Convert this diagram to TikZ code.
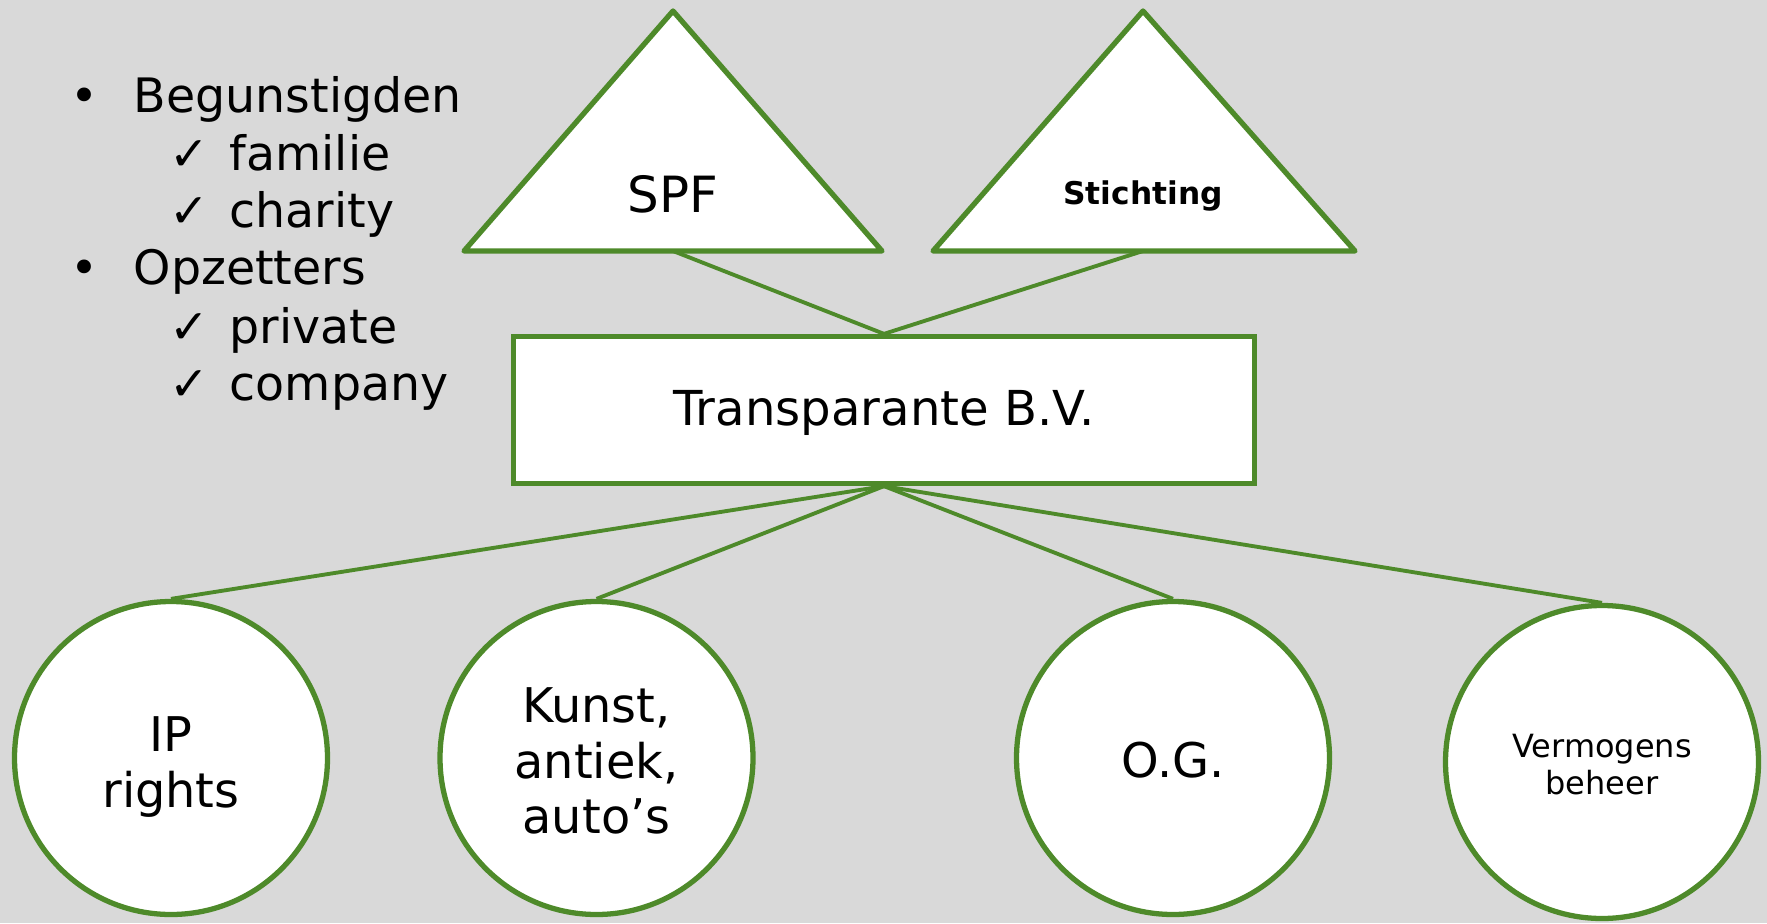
\documentclass[tikz,border=0pt]{standalone}
\usepackage{fontspec}
\setmainfont{DejaVu Sans}
\definecolor{leafgreen}{HTML}{4E8A2A}
\definecolor{slidegray}{HTML}{D9D9D9}

\begin{document}
\begin{tikzpicture}
        [entity/.style={circle, draw=leafgreen, fill=white, line width=1.5pt, minimum size=3.13cm, inner sep=0pt, align=center, font=\fontsize{13.6}{15.8}\selectfont},
        bv/.style={rectangle, draw=leafgreen, fill=white, line width=1.5pt, minimum width=7.41cm, minimum height=1.47cm, font=\fontsize{13.7}{15.8}\selectfont, execute at begin node={\rule{0pt}{0.85em}}},
        holder/.style={draw=leafgreen, fill=white, line width=1.5pt, line join=round},
        link/.style={leafgreen, line width=1.1pt},
        item/.style={anchor=base west, inner sep=0pt, font=\fontsize{13.5}{15.8}\selectfont}]

        % slide background
        \fill[slidegray] (0,0) rectangle (17.67,9.23);
        \useasboundingbox (0,0) rectangle (17.67,9.23);

        % list on the left
        \node[item] (dot1) at (0.70,8.10) {•};
        \node[item] (ben) at (1.33,8.10) {Begunstigden};
        \node[item] (chk1) at (1.69,7.53) {✓};
        \node[item] (fam) at (2.29,7.53) {familie};
        \node[item] (chk2) at (1.69,6.955) {✓};
        \node[item] (cha) at (2.29,6.955) {charity};
        \node[item] (dot2) at (0.70,6.38) {•};
        \node[item] (opz) at (1.33,6.38) {Opzetters};
        \node[item] (chk3) at (1.69,5.80) {✓};
        \node[item] (pri) at (2.29,5.80) {private};
        \node[item] (chk4) at (1.69,5.225) {✓};
        \node[item] (com) at (2.29,5.225) {company};

        % holding structures on top
        \draw[holder] (4.64,6.72) -- (6.73,9.12) -- (8.82,6.72) -- cycle;
        \draw[holder] (9.33,6.72) -- (11.43,9.12) -- (13.55,6.72) -- cycle;
        \coordinate (spf) at (6.73,6.72);
        \coordinate (sti) at (11.43,6.72);
        \node[font=\fontsize{14.2}{15.8}\selectfont] (spflabel) at (6.73,7.29) {SPF};
        \node[font=\fontsize{8.9}{10.6}\selectfont\bfseries] (stilabel) at (11.43,7.27) {Stichting};

        % the B.V. in the middle
        \node[bv] (tbv) at (8.84,5.13) {Transparante B.V.};

        % assets below
        \node[entity] (ip) at (1.71,1.65) {\rule{0pt}{1.1em}IP\\rights};
        \node[entity] (art) at (5.965,1.65) {\rule{0pt}{0.87em}Kunst,\\antiek,\\auto’s};
        \node[entity] (og) at (11.73,1.65) {\rule{0pt}{0.85em}O.G.};
        \node[entity, font=\fontsize{9.1}{10.6}\selectfont] (vb) at (16.02,1.61) {\rule{0pt}{0.87em}Vermogens\\beheer};

        % connections
        \draw[link] (spf) -- (tbv.north);
        \draw[link] (sti) -- (tbv.north);
        \draw[link] (tbv.south) -- (ip.north);
        \draw[link] (tbv.south) -- (art.north);
        \draw[link] (tbv.south) -- (og.north);
        \draw[link] (tbv.south) -- (vb.north);

    \end{tikzpicture}
\end{document}
